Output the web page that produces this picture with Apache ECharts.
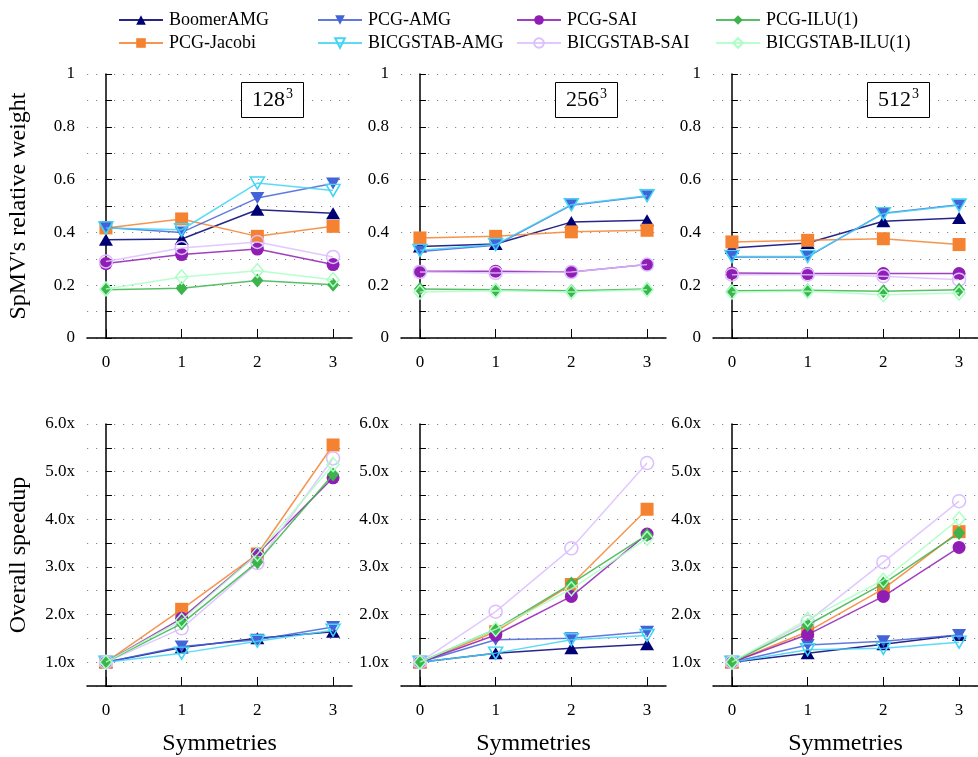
<!DOCTYPE html>
<html>
<head>
<meta charset="utf-8">
<script src="https://cdn.jsdelivr.net/npm/echarts@6/dist/echarts.min.js"></script>
<style>html,body{margin:0;padding:0;background:#fff}#c{width:978px;height:757px}</style>
</head>
<body>
<div id="c"></div>
<script>
// ---- data ----
const symmetries = [0, 1, 2, 3];
const gridSizes = ['128', '256', '512'];
const methods = ['BoomerAMG', 'PCG-Jacobi', 'PCG-AMG', 'BICGSTAB-AMG', 'PCG-SAI', 'BICGSTAB-SAI', 'PCG-ILU(1)', 'BICGSTAB-ILU(1)'];

// SpMV relative weight, one row per grid size (128^3, 256^3, 512^3)
const weightBoomerAMG   = [[0.372,0.375,0.486,0.473],[0.347,0.356,0.439,0.446],[0.341,0.360,0.442,0.455]];
const weightPCGJacobi   = [[0.417,0.451,0.385,0.423],[0.379,0.385,0.402,0.408],[0.364,0.370,0.376,0.354]];
const weightPCGAMG      = [[0.419,0.400,0.530,0.585],[0.328,0.351,0.503,0.537],[0.307,0.307,0.473,0.505]];
const weightBICGAMG     = [[0.417,0.410,0.587,0.559],[0.332,0.354,0.505,0.539],[0.309,0.309,0.471,0.503]];
const weightPCGSAI      = [[0.282,0.316,0.337,0.278],[0.253,0.253,0.250,0.278],[0.246,0.244,0.244,0.244]];
const weightBICGSAI     = [[0.290,0.341,0.364,0.307],[0.250,0.246,0.250,0.278],[0.240,0.240,0.234,0.221]];
const weightPCGILU      = [[0.183,0.188,0.218,0.202],[0.186,0.183,0.179,0.186],[0.179,0.181,0.177,0.183]];
const weightBICGILU     = [[0.186,0.231,0.255,0.221],[0.174,0.179,0.174,0.183],[0.174,0.177,0.164,0.170]];

// Overall speedup
const speedupBoomerAMG  = [[1,1.31,1.50,1.64],[1,1.19,1.29,1.375],[1,1.19,1.375,1.57]];
const speedupPCGJacobi  = [[1,2.11,3.27,5.56],[1,1.64,2.63,4.21],[1,1.64,2.54,3.74]];
const speedupPCGAMG     = [[1,1.33,1.47,1.74],[1,1.47,1.50,1.64],[1,1.36,1.44,1.57]];
const speedupBICGAMG    = [[1,1.19,1.44,1.67],[1,1.19,1.47,1.56],[1,1.26,1.29,1.42]];
const speedupPCGSAI     = [[1,1.92,3.27,4.87],[1,1.57,2.38,3.69],[1,1.58,2.38,3.41]];
const speedupBICGSAI    = [[1,1.71,3.08,5.28],[1,2.06,3.39,5.18],[1,1.85,3.10,4.38]];
const speedupPCGILU     = [[1,1.81,3.10,4.94],[1,1.69,2.65,3.67],[1,1.78,2.65,3.71]];
const speedupBICGILU    = [[1,1.88,3.27,5.15],[1,1.69,2.54,3.60],[1,1.90,2.72,4.01]];

const weightTicks = [0, 0.2, 0.4, 0.6, 0.8, 1];
const speedupTicks = [1, 2, 3, 4, 5, 6];

// ---- styling ----
const weightData = [weightBoomerAMG, weightPCGJacobi, weightPCGAMG, weightBICGAMG, weightPCGSAI, weightBICGSAI, weightPCGILU, weightBICGILU];
const speedupData = [speedupBoomerAMG, speedupPCGJacobi, speedupPCGAMG, speedupBICGAMG, speedupPCGSAI, speedupBICGSAI, speedupPCGILU, speedupBICGILU];
const colors = ['#000075', '#f58231', '#4363d8', '#42d4f4', '#911eb4', '#dcbeff', '#3cb44b', '#aaffc3'];
const triUp = 'path://M0,-10L8.66,5L-8.66,5Z';
const triDown = 'path://M0,10L8.66,-5L-8.66,-5Z';
const symbols = [triUp, 'rect', triDown, triDown, 'circle', 'circle', 'diamond', 'diamond'];
const sizes = [[14,12], 13, [14,12], [14,12], 13, 13, [12,14], [12,14]];
const hollow = [false, false, false, true, false, true, false, true];

const FONT = 'Liberation Serif';
const lefts = [87, 401, 713];
const W = 265;
const grids = [], xAxes = [], yAxes = [], series = [], titles = [];

function fmtW(v) {
  const r = Math.round(v * 10) / 10;
  if (r === 0) return '0';
  if (r === 1) return '1';
  return r.toFixed(1);
}

for (let row = 0; row < 2; row++) {
  for (let col = 0; col < 3; col++) {
    const gi = row * 3 + col;
    grids.push({left: lefts[col], width: W, top: row === 0 ? 74 : 424, height: row === 0 ? 264 : 263});
    xAxes.push({
      type: 'value', gridIndex: gi, min: -0.25, max: 3.25,
      name: row === 1 ? 'Symmetries' : '', nameLocation: 'middle', nameGap: 46,
      nameTextStyle: {fontFamily: FONT, fontSize: 24, color: '#000'},
      axisLine: {show: true, onZero: false, lineStyle: {color: '#000', width: 1.5}},
      axisTick: {show: true, inside: true, length: 9, customValues: symmetries, lineStyle: {color: '#000', width: 1}},
      axisLabel: {customValues: symmetries, fontFamily: FONT, fontSize: 17, color: '#000', margin: 16},
      splitLine: {show: false}
    });
    const isW = row === 0;
    yAxes.push({
      type: 'value', gridIndex: gi,
      min: isW ? 0 : 0.5, max: isW ? 1 : 6, interval: isW ? 0.1 : 0.5,
      name: col === 0 ? (isW ? "SpMV's relative weight" : 'Overall speedup') : '',
      nameLocation: 'middle', nameGap: 56, nameRotate: 90,
      nameTextStyle: {fontFamily: FONT, fontSize: 24, color: '#000'},
      axisLine: {show: true, lineStyle: {color: '#000', width: 1.5}},
      axisTick: {show: true, inside: true, length: 6, lineStyle: {color: '#000', width: 1}},
      axisLabel: {
        customValues: isW ? weightTicks : speedupTicks,
        fontFamily: FONT, fontSize: 17, color: '#000', margin: 12,
        formatter: isW ? fmtW : (v => Math.round(v).toFixed(1) + 'x')
      },
      splitLine: {show: true, lineStyle: {color: '#888', width: 1.2, type: [1.2, 7.8]}}
    });
    const src = isW ? weightData : speedupData;
    for (let m = 0; m < methods.length; m++) {
      const c = colors[m];
      series.push({
        type: 'line', name: methods[m], xAxisIndex: gi, yAxisIndex: gi,
        data: symmetries.map((s, i) => [s, src[m][col][i]]),
        symbol: symbols[m], symbolSize: sizes[m], showSymbol: true,
        lineStyle: {color: c, width: 1.5, opacity: 0.85},
        itemStyle: hollow[m] ? {color: '#ffffff00', borderColor: c, borderWidth: 1.5} : {color: c, borderColor: c, borderWidth: 0},
        emphasis: {disabled: true}, animation: false, z: 2 + m
      });
    }
    if (row === 0) {
      titles.push({
        text: '{a|' + gridSizes[col] + '}{b|3}',
        left: lefts[col] + 154, top: 83,
        borderColor: '#000', borderWidth: 1, backgroundColor: '#fff',
        padding: [5, 11, 4, 11],
        textStyle: {
          fontWeight: 'normal',
          rich: {
            a: {fontFamily: FONT, fontSize: 22, fontWeight: 'normal', color: '#000', lineHeight: 25},
            b: {fontFamily: FONT, fontSize: 14, fontWeight: 'normal', color: '#000', lineHeight: 25, padding: [0, 0, 12, 1]}
          }
        }
      });
    }
  }
}

const legendLefts = [113, 312, 511, 710];
const legends = legendLefts.map((l, k) => ({
  orient: 'vertical', left: l, top: 6, itemGap: 5, itemWidth: 44, itemHeight: 12,
  data: [methods[k * 2], methods[k * 2 + 1]],
  textStyle: {fontFamily: FONT, fontSize: 18, color: '#000', padding: [0, 0, 0, 1]},
  selectedMode: false
}));

const chart = echarts.init(document.getElementById('c'), null, {renderer: 'canvas'});
chart.setOption({
  animation: false,
  backgroundColor: '#fff',
  title: titles,
  legend: legends,
  grid: grids, xAxis: xAxes, yAxis: yAxes, series: series
});
</script>
</body>
</html>
